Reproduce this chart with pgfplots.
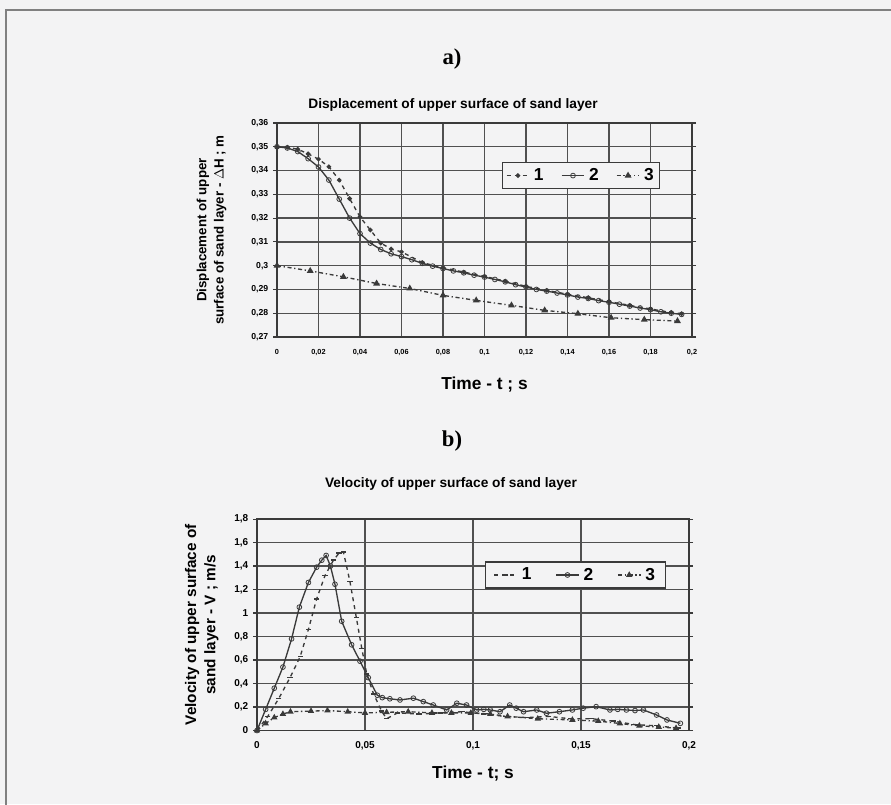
\documentclass[border=0pt]{standalone}
\usepackage{fontspec}
\setmainfont{Liberation Sans}
\newfontfamily\serifb{Liberation Serif}
\usepackage{pgfplots}
\pgfplotsset{compat=1.18}
\definecolor{ink}{HTML}{3A3A3A}
\definecolor{gridc}{HTML}{505050}
\definecolor{bg}{HTML}{F3F3F4}
\begin{document}
\begin{tikzpicture}[x=0.75pt,y=0.75pt]
\useasboundingbox (0,0) rectangle (891,804);
\fill[bg] (0,0) rectangle (891,804);
\draw[line width=1.6pt, gray] (6,-100) -- (6,794) -- (950,794);
\node[font=\serifb\bfseries\fontsize{17}{19}\selectfont] at (452,745) {a)};
\node[font=\bfseries\fontsize{10.3}{12}\selectfont] at (453,699) {Displacement of upper surface of sand layer};
\node[font=\serifb\bfseries\fontsize{17}{19}\selectfont] at (452,363) {b)};
\node[font=\bfseries\fontsize{10.3}{12}\selectfont] at (451,320) {Velocity of upper surface of sand layer};
\pgfplotsset{every axis/.append style={
  scale only axis, axis line style={ink, line width=1pt},
  grid=major, major grid style={gridc, line width=1pt},
  tick style={ink, line width=0.8pt}, tick align=outside,
  major tick length=3pt,
  legend style={draw=ink, line width=0.9pt, fill=bg, legend columns=3,
    font=\bfseries\fontsize{13}{14}\selectfont, inner sep=2.5pt,
    /tikz/every odd column/.append style={column sep=1pt}},
  legend cell align=left,
}}
% ---------- chart a ----------
\begin{axis}[at={(207.75pt,350.25pt)}, anchor=south west,
  width=311.25pt, height=160.5pt,
  xmin=0, xmax=0.2, ymin=0.27, ymax=0.36,
  xtick={0,0.02,0.04,0.06,0.08,0.1,0.12,0.14,0.16,0.18,0.2},
  xticklabels={0,{0,02},{0,04},{0,06},{0,08},{0,1},{0,12},{0,14},{0,16},{0,18},{0,2}},
  ytick={0.27,0.28,0.29,0.3,0.31,0.32,0.33,0.34,0.35,0.36},
  yticklabels={{0,27},{0,28},{0,29},{0,3},{0,31},{0,32},{0,33},{0,34},{0,35},{0,36}},
  x tick style={draw=none},
  xticklabel style={font=\bfseries\fontsize{5.5}{6}\selectfont, yshift=-3pt},
  yticklabel style={font=\bfseries\fontsize{6.5}{7}\selectfont},
  xlabel={Time - t ; s},
  xlabel style={font=\bfseries\fontsize{13}{14}\selectfont, yshift=-9pt},
  ylabel={\begin{tabular}{c}Displacement of upper\\surface of sand layer - $\Delta$H ; m\end{tabular}},
  ylabel style={font=\bfseries\fontsize{10}{13}\selectfont, yshift=10pt},
  legend style={at={(0.542,0.818)}, anchor=north west,
    /tikz/every even column/.append style={column sep=11pt}},
]
\addplot[ink, line width=1pt, dashed, mark=*, mark size=1.2pt, mark options={solid}] coordinates {
(0,0.350) (0.005,0.3498) (0.01,0.349) (0.015,0.347) (0.02,0.3448) (0.025,0.3416)
(0.03,0.336) (0.035,0.3282) (0.04,0.3205) (0.045,0.315) (0.05,0.3095) (0.055,0.307)
(0.06,0.3058) (0.07,0.3013) (0.08,0.2991) (0.09,0.2973) (0.1,0.2955) (0.11,0.2935)
(0.12,0.2913) (0.13,0.2896) (0.14,0.288) (0.15,0.2865) (0.16,0.2849) (0.17,0.2833)
(0.18,0.2818) (0.19,0.2803) (0.195,0.2798)};
\addlegendentry{1}
\addplot[ink, line width=1pt, mark=o, mark size=1.8pt, mark options={fill=white, line width=0.6pt}] coordinates {
(0,0.350) (0.005,0.3495) (0.01,0.348) (0.015,0.345) (0.02,0.3415) (0.025,0.336)
(0.03,0.328) (0.035,0.320) (0.04,0.3135) (0.045,0.3095) (0.05,0.3068) (0.055,0.305)
(0.06,0.3038) (0.065,0.3025) (0.07,0.301) (0.075,0.2998) (0.08,0.2988) (0.085,0.2978)
(0.09,0.297) (0.095,0.296) (0.1,0.2952) (0.105,0.2942) (0.11,0.2932) (0.115,0.292)
(0.12,0.291) (0.125,0.290) (0.13,0.2893) (0.135,0.2885) (0.14,0.2877) (0.145,0.2868)
(0.15,0.2862) (0.155,0.2853) (0.16,0.2846) (0.165,0.2838) (0.17,0.283) (0.175,0.2822)
(0.18,0.2815) (0.185,0.2806) (0.19,0.2800) (0.195,0.2795)};
\addlegendentry{2}
\addplot[ink, line width=1pt, dash dot, mark=triangle*, mark size=2pt, mark options={solid}] coordinates {
(0,0.300) (0.016,0.2978) (0.032,0.2953) (0.048,0.2925) (0.064,0.2904) (0.08,0.2875)
(0.096,0.2854) (0.113,0.2833) (0.129,0.2812) (0.145,0.2798) (0.161,0.2781)
(0.177,0.2773) (0.193,0.2767)};
\addlegendentry{3}
\end{axis}
% ---------- chart b ----------
\begin{axis}[at={(192.75pt,55.125pt)}, anchor=south west,
  width=324pt, height=158.6pt,
  xmin=0, xmax=0.2, ymin=0, ymax=1.8,
  xtick={0,0.05,0.1,0.15,0.2},
  xticklabels={0,{0,05},{0,1},{0,15},{0,2}},
  ytick={0,0.2,0.4,0.6,0.8,1,1.2,1.4,1.6,1.8},
  yticklabels={0,{0,2},{0,4},{0,6},{0,8},1,{1,2},{1,4},{1,6},{1,8}},
  x tick style={draw=none},
  xticklabel style={font=\bfseries\fontsize{7.5}{8}\selectfont, yshift=-2pt},
  yticklabel style={font=\bfseries\fontsize{7.5}{8}\selectfont},
  xlabel={Time - t; s},
  xlabel style={font=\bfseries\fontsize{13}{14}\selectfont, yshift=-5pt},
  ylabel={\begin{tabular}{c}Velocity of upper surface of\\sand layer - V ; m/s\end{tabular}},
  ylabel style={font=\bfseries\fontsize{11.5}{14.5}\selectfont, yshift=3pt},
  legend style={at={(0.528,0.80)}, anchor=north west, inner xsep=6pt,
    /tikz/every even column/.append style={column sep=16pt}},
]
\addplot[ink, line width=1pt, dashed, mark=-, mark size=2pt, mark options={solid}] coordinates {
(0,0) (0.005,0.12) (0.01,0.27) (0.0153,0.45) (0.02,0.63) (0.0238,0.86) (0.0276,1.12)
(0.0315,1.32) (0.0354,1.45) (0.038,1.51) (0.040,1.52) (0.043,1.27) (0.046,0.96)
(0.0485,0.70) (0.0508,0.48) (0.054,0.31) (0.0577,0.165) (0.06,0.10) (0.065,0.15)
(0.075,0.14) (0.085,0.15) (0.095,0.16) (0.105,0.14) (0.115,0.12) (0.125,0.11)
(0.135,0.12) (0.145,0.10) (0.155,0.10) (0.165,0.08) (0.175,0.05) (0.185,0.04) (0.195,0.02)};
\addlegendentry{1}
\addplot[ink, line width=1pt, mark=o, mark size=1.8pt, mark options={fill=white, line width=0.6pt}] coordinates {
(0,0) (0.004,0.18) (0.008,0.36) (0.012,0.54) (0.016,0.78) (0.0196,1.05) (0.0238,1.26)
(0.0276,1.39) (0.030,1.45) (0.032,1.49) (0.034,1.40) (0.0361,1.245) (0.0392,0.93)
(0.0438,0.73) (0.0477,0.59) (0.0515,0.45) (0.0557,0.30) (0.058,0.28) (0.0615,0.27)
(0.0662,0.26) (0.0724,0.275) (0.077,0.246) (0.0816,0.217) (0.0878,0.175) (0.0925,0.232)
(0.097,0.217) (0.1017,0.175) (0.105,0.18) (0.108,0.175) (0.1125,0.16) (0.117,0.217)
(0.120,0.19) (0.1234,0.16) (0.1295,0.175) (0.134,0.147) (0.140,0.16) (0.146,0.175)
(0.151,0.19) (0.157,0.203) (0.1634,0.175) (0.167,0.18) (0.171,0.175) (0.175,0.17)
(0.1789,0.175) (0.185,0.132) (0.1898,0.09) (0.196,0.061)};
\addlegendentry{2}
\addplot[ink, line width=1pt, dash dot, mark=triangle*, mark size=1.8pt, mark options={solid}] coordinates {
(0,0) (0.004,0.06) (0.008,0.11) (0.012,0.14) (0.0155,0.16) (0.025,0.165) (0.0326,0.17)
(0.042,0.16) (0.05,0.15) (0.06,0.155) (0.07,0.16) (0.081,0.15) (0.09,0.15) (0.099,0.15)
(0.108,0.14) (0.116,0.12) (0.13,0.10) (0.146,0.09) (0.158,0.08) (0.168,0.06)
(0.177,0.04) (0.186,0.03) (0.194,0.02)};
\addlegendentry{3}
\end{axis}
\end{tikzpicture}
\end{document}
